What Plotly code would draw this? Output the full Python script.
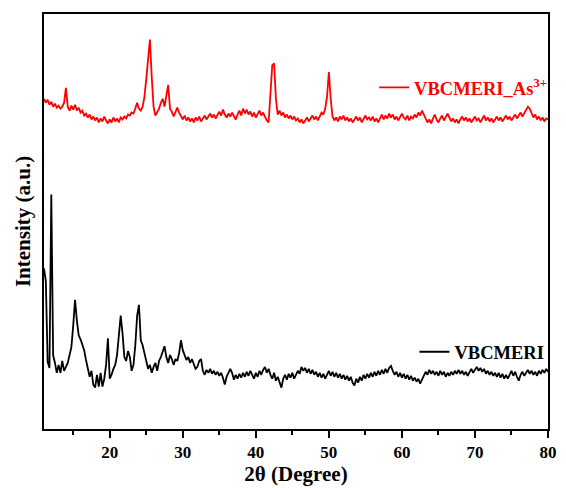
import plotly.graph_objects as go

# 2-theta sampling grid (degrees)
two_theta_start = 11.0
two_theta_step = 0.25

# VBCMERI_As3+ (red), one row per degree: x.00, x.25, x.50, x.75
red_intensity = [
    335, 331, 334, 329,  # 11
    332, 327, 330, 326,  # 12
    328, 325, 327, 331,  # 13
    346, 327, 323, 328,  # 14
    324, 329, 323, 326,  # 15
    321, 323, 318, 320,  # 16
    316, 319, 314, 317,  # 17
    313, 316, 311, 315,  # 18
    312, 317, 313, 310,  # 19
    314, 311, 316, 312,  # 20
    315, 311, 316, 314,  # 21
    317, 315, 319, 318,  # 22
    321, 320, 325, 331,  # 23
    325, 323, 327, 337,  # 24
    355, 380, 395, 357,  # 25
    327, 318, 322, 325,  # 26
    331, 335, 327, 338,  # 27
    349, 325, 322, 317,  # 28
    321, 326, 321, 317,  # 29
    314, 318, 313, 316,  # 30
    312, 315, 311, 316,  # 31
    313, 317, 312, 315,  # 32
    318, 314, 317, 320,  # 33
    316, 319, 315, 318,  # 34
    322, 318, 324, 319,  # 35
    316, 320, 317, 321,  # 36
    318, 314, 319, 323,  # 37
    318, 325, 320, 324,  # 38
    319, 322, 317, 321,  # 39
    316, 320, 323, 318,  # 40
    321, 317, 313, 311,  # 41
    340, 369, 371, 335,  # 42
    319, 323, 318, 321,  # 43
    316, 319, 315, 318,  # 44
    314, 317, 313, 315,  # 45
    311, 314, 310, 313,  # 46
    316, 312, 315, 318,  # 47
    314, 317, 313, 318,  # 48
    321, 319, 325, 337,  # 49
    362, 335, 317, 313,  # 50
    316, 312, 317, 314,  # 51
    318, 313, 316, 312,  # 52
    315, 311, 314, 317,  # 53
    313, 316, 311, 315,  # 54
    318, 314, 316, 313,  # 55
    317, 312, 315, 311,  # 56
    315, 319, 314, 318,  # 57
    315, 320, 316, 319,  # 58
    314, 317, 313, 316,  # 59
    320, 316, 314, 318,  # 60
    313, 317, 315, 319,  # 61
    316, 321, 318, 323,  # 62
    319, 315, 311, 314,  # 63
    310, 315, 319, 314,  # 64
    311, 315, 318, 313,  # 65
    316, 320, 316, 312,  # 66
    315, 311, 314, 310,  # 67
    314, 317, 313, 316,  # 68
    312, 315, 311, 314,  # 69
    317, 313, 315, 311,  # 70
    314, 318, 313, 316,  # 71
    312, 315, 311, 314,  # 72
    317, 313, 316, 312,  # 73
    315, 318, 314, 317,  # 74
    313, 316, 319, 315,  # 75
    318, 321, 317, 320,  # 76
    323, 327, 325, 320,  # 77
    316, 319, 314, 317,  # 78
    313, 316, 312, 315,  # 79
    314,                 # 80
]

# VBCMERI (black)
black_intensity = [
    163, 150, 68, 62,    # 11
    238, 75, 67, 57,     # 12
    65, 57, 69, 59,      # 13
    63, 67, 75, 83,      # 14
    105, 131, 110, 95,   # 15
    91, 85, 80, 70,      # 16
    60, 53, 59, 45,      # 17
    42, 55, 43, 57,      # 18
    43, 51, 65, 92,      # 19
    51, 55, 61, 65,      # 20
    75, 95, 115, 97,     # 21
    73, 69, 79, 73,      # 22
    59, 65, 85, 115,     # 23
    126, 90, 85, 77,     # 24
    67, 61, 65, 57,      # 25
    63, 67, 59, 69,      # 26
    73, 79, 84, 73,      # 27
    67, 75, 71, 65,      # 28
    71, 69, 77, 90,      # 29
    80, 75, 70, 73,      # 30
    67, 71, 65, 61,      # 31
    63, 69, 71, 59,      # 32
    55, 60, 57, 61,      # 33
    56, 59, 55, 58,      # 34
    54, 57, 52, 45,      # 35
    53, 57, 61, 57,      # 36
    50, 55, 51, 56,      # 37
    52, 57, 53, 58,      # 38
    54, 59, 55, 51,      # 39
    57, 53, 59, 55,      # 40
    60, 63, 57, 61,      # 41
    55, 51, 57, 49,      # 42
    53, 47, 42, 51,      # 43
    55, 50, 56, 52,      # 44
    57, 51, 55, 59,      # 45
    56, 63, 59, 62,      # 46
    57, 61, 56, 60,      # 47
    55, 58, 53, 57,      # 48
    52, 56, 51, 55,      # 49
    59, 54, 58, 53,      # 50
    57, 52, 56, 51,      # 51
    55, 50, 54, 49,      # 52
    53, 47, 44, 51,      # 53
    47, 53, 49, 55,      # 54
    51, 56, 52, 57,      # 55
    53, 58, 54, 59,      # 56
    55, 60, 56, 61,      # 57
    57, 62, 64, 59,      # 58
    55, 58, 53, 57,      # 59
    52, 56, 51, 55,      # 60
    50, 54, 49, 52,      # 61
    48, 51, 46, 50,      # 62
    54, 58, 55, 60,      # 63
    56, 59, 55, 58,      # 64
    54, 59, 55, 58,      # 65
    53, 57, 54, 58,      # 66
    55, 59, 56, 60,      # 67
    56, 59, 55, 58,      # 68
    54, 58, 61, 57,      # 69
    60, 63, 59, 62,      # 70
    58, 61, 56, 59,      # 71
    55, 58, 54, 57,      # 72
    53, 57, 52, 56,      # 73
    51, 55, 51, 55,      # 74
    59, 54, 58, 53,      # 75
    49, 55, 58, 54,      # 76
    57, 60, 56, 59,      # 77
    55, 58, 54, 59,      # 78
    56, 60, 57, 61,      # 79
    58,                  # 80
]

red_x = [two_theta_start + two_theta_step * i for i in range(len(red_intensity))]
black_x = [two_theta_start + two_theta_step * i for i in range(len(black_intensity))]

x_tick_values = [20, 30, 40, 50, 60, 70, 80]
x_tick_labels = ["20", "30", "40", "50", "60", "70", "80"]

FONT = "Liberation Serif, Times New Roman, serif"

fig = go.Figure()
fig.add_trace(go.Scatter(
    x=black_x, y=black_intensity, mode="lines", name="<b>VBCMERI</b>",
    line=dict(color="black", width=1.8), legend="legend2",
))
fig.add_trace(go.Scatter(
    x=red_x, y=red_intensity, mode="lines", name="<b>VBCMERI_As<sup>3+</sup></b>",
    line=dict(color="#ff0000", width=1.8), legend="legend",
))

fig.update_layout(
    width=566, height=488,
    margin=dict(l=44, r=9, t=14, b=53),
    paper_bgcolor="white", plot_bgcolor="white",
    font=dict(family=FONT, size=17, color="black"),
    showlegend=True,
    legend=dict(
        x=0.655, y=0.822, xanchor="left", yanchor="middle",
        bgcolor="rgba(0,0,0,0)", font=dict(family=FONT, size=18.5, color="#ff0000"),
        itemwidth=30,
    ),
    legend2=dict(
        x=0.735, y=0.185, xanchor="left", yanchor="middle",
        bgcolor="rgba(0,0,0,0)", font=dict(family=FONT, size=18.5, color="black"),
        itemwidth=30,
    ),
    xaxis=dict(
        range=[11, 80], tickmode="array", tickvals=x_tick_values, ticktext=x_tick_labels,
        ticks="outside", ticklen=7, tickwidth=1.5, tickcolor="black",
        minor=dict(dtick=5, tick0=0, ticks="outside", ticklen=4, tickwidth=1.5, tickcolor="black"),
        showline=True, linecolor="black", linewidth=2, mirror=True,
        showgrid=False, zeroline=False,
        tickfont=dict(family=FONT, size=17, color="black", weight="bold"),
        title=dict(text="<b>2θ (Degree)</b>", font=dict(family=FONT, size=21), standoff=2),
    ),
    yaxis=dict(
        range=[0, 421], showticklabels=False, ticks="",
        showline=True, linecolor="black", linewidth=2, mirror=True,
        showgrid=False, zeroline=False,
        title=dict(text="<b>Intensity (a.u.)</b>", font=dict(family=FONT, size=21), standoff=6),
    ),
)

fig.write_html("out.html")
